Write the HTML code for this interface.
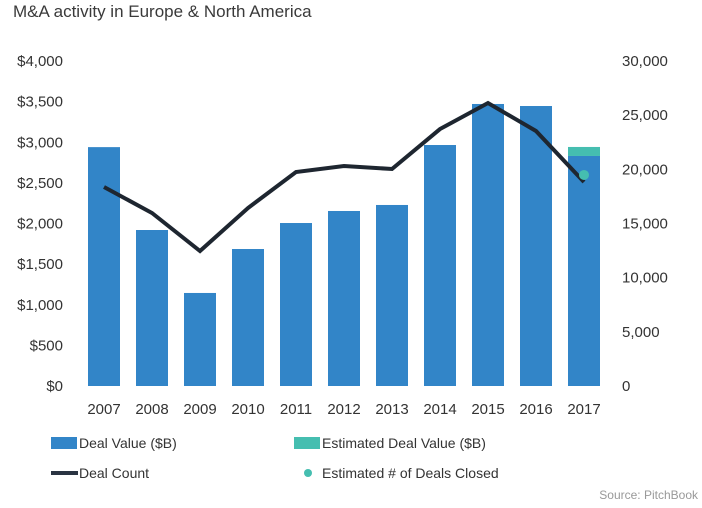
<!DOCTYPE html>
<html><head><meta charset="utf-8"><style>
body{margin:0;background:#fff;font-family:"Liberation Sans",sans-serif;}
svg text{font-family:"Liberation Sans",sans-serif;}
</style></head><body>
<svg width="702" height="503" id="c">
<text x="13" y="17" font-size="17" fill="#3a3a3a">M&amp;A activity in Europe &amp; North America</text>
<g id="bars"></g><g id="line"></g><g id="axes"></g>
<g>
<rect x="51" y="437" width="26" height="12" fill="#3285c8"/>
<text x="79" y="448" font-size="14" fill="#333">Deal Value ($B)</text>
<rect x="294" y="437" width="26" height="12" fill="#45beb0"/>
<text x="322" y="448" font-size="14" fill="#333">Estimated Deal Value ($B)</text>
<line x1="51" y1="473" x2="78" y2="473" stroke="#2a3442" stroke-width="4"/>
<text x="79" y="478" font-size="14" fill="#333">Deal Count</text>
<circle cx="308" cy="473" r="4" fill="#45beb0"/>
<text x="322" y="478" font-size="14" fill="#333">Estimated # of Deals Closed</text>
</g>
<text x="698" y="499" font-size="12" fill="#999" text-anchor="end">Source: PitchBook</text>
</svg>
<script>
const years=["2007","2008","2009","2010","2011","2012","2013","2014","2015","2016","2017"];
const dealValue=[2940,1920,1145,1686,2006,2154,2228,2966,3471,3446,2831];
const estimatedValue=[0,0,0,0,0,0,0,0,0,0,111];
const dealCount=[18370,15970,12460,16430,19750,20310,20030,23720,26120,23540,18830];
const estimatedDeals=[null,null,null,null,null,null,null,null,null,null,19480];
const leftTicks=[0,500,1000,1500,2000,2500,3000,3500,4000];
const rightTicks=[0,5000,10000,15000,20000,25000,30000];
const NS="http://www.w3.org/2000/svg";
const y0=386,y1=61;
const yL=v=>y0-(v/4000)*(y0-y1);
const yR=v=>y0-(v/30000)*(y0-y1);
const xC=i=>104+i*48;
function mk(t,a,p){const e=document.createElementNS(NS,t);for(const k in a)e.setAttribute(k,a[k]);p.appendChild(e);return e;}
const bars=document.getElementById('bars'),line=document.getElementById('line'),axes=document.getElementById('axes');
years.forEach((yr,i)=>{
 const r=mk('rect',{x:xC(i)-16,y:yL(dealValue[i]),width:32,height:y0-yL(dealValue[i]),fill:'#3285c8'},bars);
 
 
 if(estimatedValue[i]>0){
  const e=mk('rect',{x:xC(i)-16,y:yL(dealValue[i]+estimatedValue[i]),width:32,height:yL(dealValue[i])-yL(dealValue[i]+estimatedValue[i]),fill:'#45beb0'},bars);
  
  
 }
 const t=mk('text',{x:xC(i),y:414,'font-size':15,fill:'#333','text-anchor':'middle'},axes);
 t.textContent=yr;
 
 
});
const pl=mk('polyline',{points:dealCount.map((v,i)=>xC(i)+','+yR(v)).join(' '),fill:'none',stroke:'#1e2630','stroke-width':4,'stroke-linejoin':'miter'},line);


estimatedDeals.forEach((v,i)=>{if(v!=null){
 const c=mk('circle',{cx:xC(i),cy:yR(v),r:5,fill:'#45beb0'},line);
 
 
}});
leftTicks.forEach(v=>{
 const t=mk('text',{x:63,y:yL(v)+5,'font-size':15,fill:'#333','text-anchor':'end'},axes);
 t.textContent='$'+v.toLocaleString('en-US');
 
 
});
rightTicks.forEach(v=>{
 const t=mk('text',{x:622,y:yR(v)+5,'font-size':15,fill:'#333'},axes);
 t.textContent=v.toLocaleString('en-US');
 
 
});
</script>
</body></html>
